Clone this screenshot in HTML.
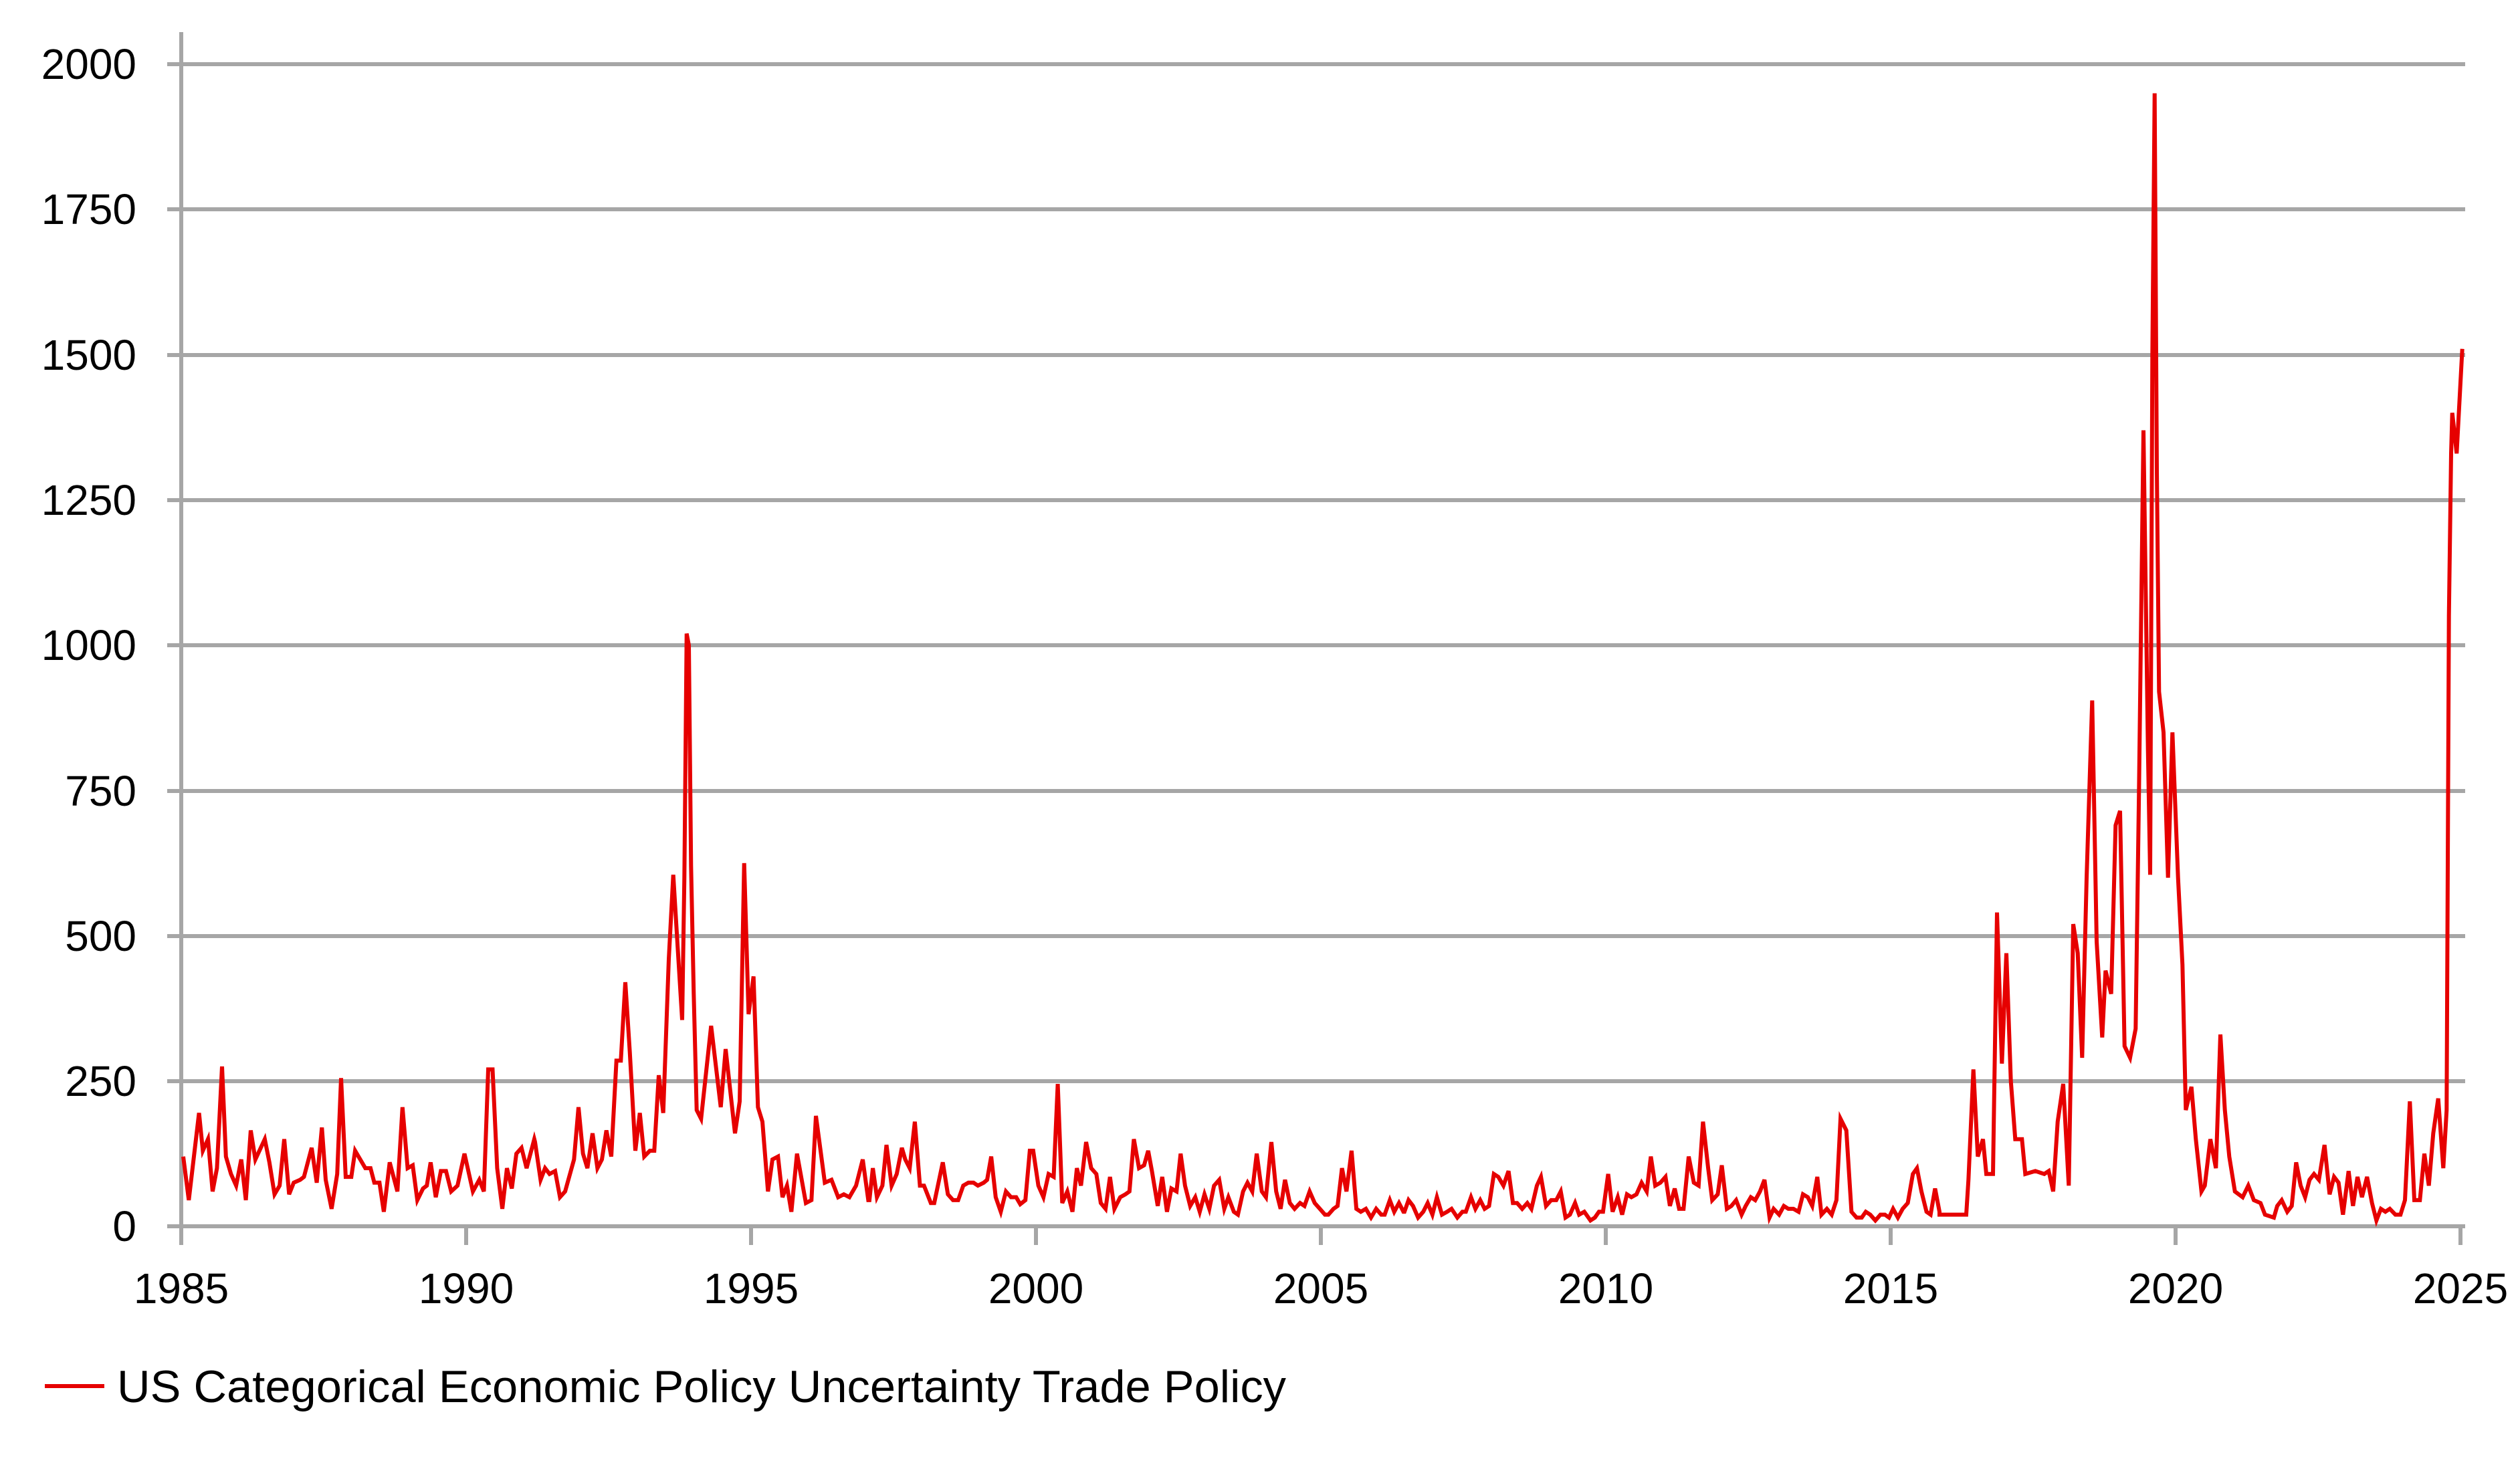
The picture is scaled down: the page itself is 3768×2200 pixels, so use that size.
<!DOCTYPE html>
<html><head><meta charset="utf-8"><style>
html,body{margin:0;padding:0;background:#fff;}
svg{display:block;}
text{font-family:"Liberation Sans",Arial,sans-serif;fill:#000;}
</style></head><body>
<svg id="s" width="3768" height="2200" viewBox="0 0 3768 2200" xmlns="http://www.w3.org/2000/svg">
<rect width="3768" height="2200" fill="#fff"/>
<g stroke="#a6a6a6" stroke-width="6">
<line x1="250" y1="96" x2="3686" y2="96"/>
<line x1="250" y1="313" x2="3686" y2="313"/>
<line x1="250" y1="531" x2="3686" y2="531"/>
<line x1="250" y1="748" x2="3686" y2="748"/>
<line x1="250" y1="965" x2="3686" y2="965"/>
<line x1="250" y1="1183" x2="3686" y2="1183"/>
<line x1="250" y1="1400" x2="3686" y2="1400"/>
<line x1="250" y1="1617" x2="3686" y2="1617"/>
<line x1="250" y1="1834" x2="3686" y2="1834"/>
<line x1="271" y1="48" x2="271" y2="1834"/>
<line x1="271" y1="1834" x2="271" y2="1862"/>
<line x1="697" y1="1834" x2="697" y2="1862"/>
<line x1="1123" y1="1834" x2="1123" y2="1862"/>
<line x1="1549" y1="1834" x2="1549" y2="1862"/>
<line x1="1975" y1="1834" x2="1975" y2="1862"/>
<line x1="2401" y1="1834" x2="2401" y2="1862"/>
<line x1="2827" y1="1834" x2="2827" y2="1862"/>
<line x1="3253" y1="1834" x2="3253" y2="1862"/>
<line x1="3679" y1="1834" x2="3679" y2="1862"/>
</g>
<g font-size="64" text-anchor="end">
<text x="204" y="118">2000</text>
<text x="204" y="335">1750</text>
<text x="204" y="553">1500</text>
<text x="204" y="770">1250</text>
<text x="204" y="987">1000</text>
<text x="204" y="1205">750</text>
<text x="204" y="1422">500</text>
<text x="204" y="1639">250</text>
<text x="204" y="1856">0</text>
</g>
<g font-size="64" text-anchor="middle">
<text x="271" y="1949">1985</text>
<text x="697" y="1949">1990</text>
<text x="1123" y="1949">1995</text>
<text x="1549" y="1949">2000</text>
<text x="1975" y="1949">2005</text>
<text x="2401" y="1949">2010</text>
<text x="2827" y="1949">2015</text>
<text x="3253" y="1949">2020</text>
<text x="3679" y="1949">2025</text>
</g>
<line x1="67" y1="2073" x2="156" y2="2073" stroke="#e60000" stroke-width="6"/>
<text x="175" y="2097" font-size="68" textLength="1748" lengthAdjust="spacingAndGlyphs">US Categorical Economic Policy Uncertainty Trade Policy</text>
<polyline id="ln" fill="none" stroke="#e60000" stroke-width="6" stroke-linejoin="miter" points=""/>
</svg>
<script>
var A=[195,120,215,45,255,195,270,130,290,150,308,60,325,100,345,275,360,120,380,90,400,70,420,115,438,45,457,165,475,115,512,150,530,110,550,55,570,70,588,150,607,55,625,75,650,80,665,85,695,135,715,75,735,170,750,80,773,30,795,90,810,255,828,85,850,85,865,130,885,115,905,100,925,100,940,75,960,75,977,25,1000,110,1030,60,1050,205,1070,100,1090,105,1108,45,1130,65,1145,70,1160,110,1180,50,1200,95,1220,95,1240,60,1265,70,1292,125,1325,60,1350,80,1368,60,1385,270,1402,270,1420,100,1440,30,1458,100,1477,65,1495,125,1515,135,1535,100,1565,150];
var B=[0,145,25,80,45,100,65,90,90,95,112,50,135,60,175,115,195,205,215,125,235,100,258,160,280,100,300,115,320,165,342,120,365,285,385,285,405,420,425,300,450,130,470,195,490,120,515,130,535,130,555,260,575,195,600,460,620,605,640,480,660,355,670,600,680,1020,690,1000,700,620,712,400,725,200,745,185,790,345,833,205,855,305,897,160,918,215,938,625,958,365,980,430,1000,205,1020,180,1045,60,1065,115,1090,120,1110,50,1130,70,1150,25,1175,125,1215,40,1240,45,1260,190,1300,75,1330,80,1360,50,1385,55,1410,50,1440,70,1470,115,1495,45];
var C=[0,45,10,100,22,50,38,70,50,140,65,70,80,90,95,135,105,115,118,100,133,180,148,70,160,70,180,40,190,40,215,110,230,55,245,45,260,45,275,70,290,75,305,75,318,70,335,75,345,80,357,120,370,50,385,25,400,60,415,50,430,50,442,38,457,45,470,130,480,130,495,70,510,50,525,90,540,85,552,245,565,40,580,60,595,25,608,100,620,70,635,145,650,100,665,90,678,40,692,30,705,85,718,30,735,50,750,55,762,60,775,150,790,100,805,105,817,130,828,95,845,35,858,85,872,25,885,65,900,60,912,125,925,70,940,35,955,50,968,25,982,55,996,30,1010,70,1025,80,1040,30,1052,50,1068,25,1080,20,1095,60,1108,75,1122,60,1135,125,1150,60,1162,50,1178,145,1192,60,1205,30,1218,80,1232,40,1246,30,1262,40,1275,35,1290,60,1305,40,1320,30,1335,20,1345,20,1360,30,1372,35,1385,100,1398,60,1413,130,1427,30,1440,25,1455,30,1470,15,1485,30,1500,20,1510,20,1525,45,1538,25,1552,40,1565,25];
var D=[0,25,12,45,25,35,40,15,55,25,68,40,82,20,95,50,110,20,125,25,138,30,155,15,170,25,180,25,195,50,208,30,222,45,235,30,248,35,262,90,275,85,290,70,305,95,318,40,330,40,345,30,360,40,372,30,388,70,400,85,415,35,430,45,445,45,458,60,472,15,485,20,500,40,512,20,527,25,545,10,558,15,570,25,582,25,597,90,610,25,625,50,638,20,652,55,665,50,680,55,695,75,710,60,722,120,735,70,750,75,765,85,778,35,792,65,805,30,818,30,833,120,848,75,862,70,875,180,890,100,902,45,918,55,930,105,945,30,958,35,972,45,988,20,1000,35,1015,50,1028,45,1042,60,1055,80,1070,15,1082,30,1098,20,1112,35,1125,30,1140,30,1155,25,1168,55,1182,50,1195,35,1210,85,1222,20,1238,30,1252,20,1266,45,1278,185,1295,165,1310,25,1325,15,1340,15,1352,25,1365,20,1380,10,1395,20,1408,20,1420,15,1432,30,1446,15,1460,30,1475,40,1490,90,1502,100,1515,60,1530,25,1542,20,1555,65,1568,25];
var E=[0,20,60,20,120,20,130,80,152,270,172,120,195,150,210,90,240,90,258,540,280,280,300,470,320,250,340,150,370,150,385,90,430,95,470,90,490,95,510,60,530,180,555,245,580,70,600,520,620,470,640,290,660,600,685,905,705,490,730,325,745,440,770,400,790,690,810,715,830,310,855,290,880,340,895,750,915,1370,935,820,945,605,955,1500,965,1950,975,1300,985,920,1005,850,1025,600,1045,850,1070,600,1090,450,1105,200,1130,240,1150,150,1175,60,1190,70,1215,150,1240,100,1260,330,1280,200,1300,120,1325,60,1360,50,1385,70,1410,45,1440,40,1460,20,1500,15];
var F=[75,35,95,45,120,25,140,35,160,110,180,70,200,50,220,80,240,90,262,80,287,140,310,55,330,85,350,75,370,20,395,95,415,35,435,85,455,50,478,85,500,40,520,10,540,30,560,25,580,30,605,20,628,20,648,45,670,215,690,45,715,45,735,125,755,70,775,160,797,220,820,100,835,200,845,1050,855,1330,860,1400,880,1330,905,1510];
var segs=[[A,function(p){return 200+p/2.613;}],[B,function(p){return 800+p/3;}],[C,function(p){return 1300+p/1.96;}],[D,function(p){return 2100+p/1.96;}],[E,function(p){return 2900+p/3;}],[F,function(p){return 3380+p/3;}]];
var pts=[];
segs.forEach(function(s){var a=s[0],f=s[1];for(var i=0;i<a.length;i+=2){pts.push([f(a[i]),1834-a[i+1]*0.869]);}});
pts.sort(function(a,b){return a[0]-b[0];});
pts[0][0]=274;
document.getElementById('ln').setAttribute('points',pts.map(function(p){return p[0].toFixed(1)+','+p[1].toFixed(1);}).join(' '));
</script>
</body></html>
